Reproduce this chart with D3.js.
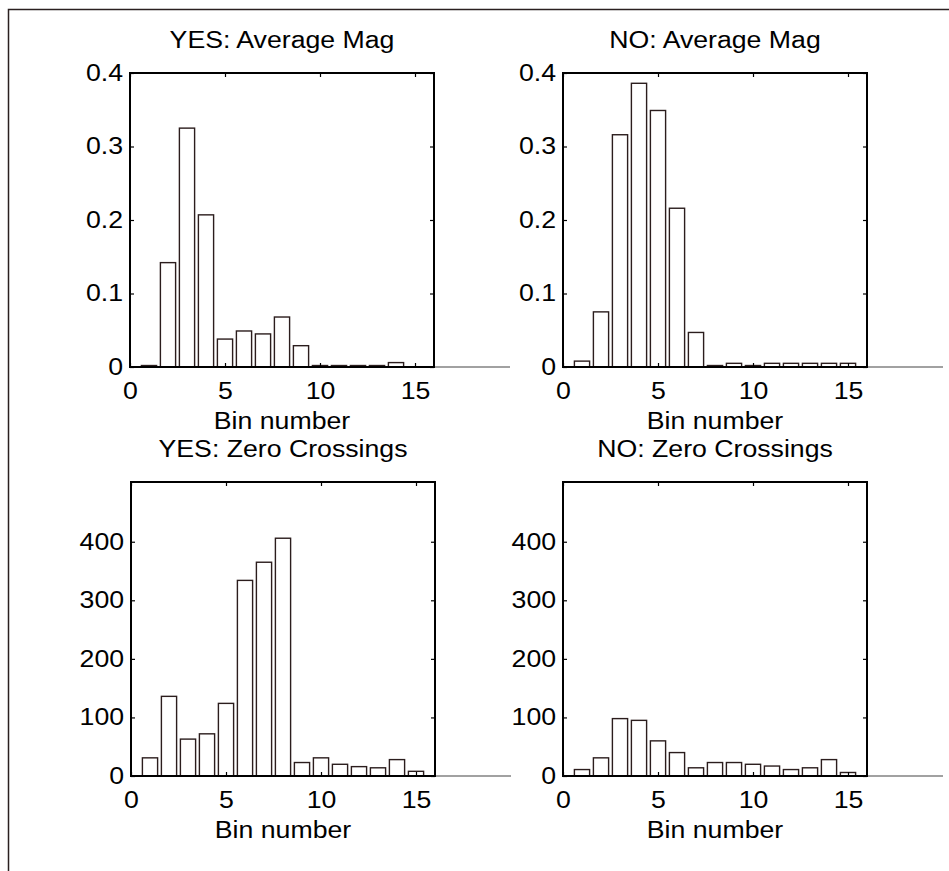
<!DOCTYPE html>
<html>
<head>
<meta charset="utf-8">
<title>Bin histograms</title>
<script src="https://cdn.jsdelivr.net/npm/d3@7/dist/d3.min.js"></script>
<style>
  body { margin: 0; background: #fff; }
  text { font-family: "Liberation Sans", Arial, sans-serif; fill: #000; }
</style>
</head>
<body>
<svg id="chart" width="949" height="871"></svg>
<script>
// bin numbers 1..15
const bins = d3.range(1, 16);

// values
const yesMag = [0.002, 0.142, 0.325, 0.207, 0.038, 0.049, 0.045, 0.068, 0.029, 0.002, 0.002, 0.002, 0.002, 0.006, 0];
const noMag  = [0.008, 0.075, 0.316, 0.386, 0.349, 0.216, 0.047, 0.002, 0.005, 0.002, 0.005, 0.005, 0.005, 0.005, 0.005];
const yesZc  = [31, 136, 63, 72, 124, 334, 365, 406, 23, 31, 20, 16, 14, 28, 8];
const noZc   = [11, 31, 98, 95, 60, 40, 14, 23, 23, 20, 17, 11, 14, 28, 6];

const titles = ["YES: Average Mag", "NO: Average Mag", "YES: Zero Crossings", "NO: Zero Crossings"];
const xTicks = [0, 5, 10, 15];
const magTicks = [0, 0.1, 0.2, 0.3, 0.4];
const zcTicks = [0, 100, 200, 300, 400];
const xLabel = "Bin number";

const svg = d3.select("#chart");

// outer figure frame (left + top edges only are visible)
svg.append("path")
  .attr("d", "M 8.5 871 V 9.5 H 949")
  .attr("fill", "none")
  .attr("stroke", "#2a2020")
  .attr("stroke-width", 1.5);

const panels = [
  {title: titles[0], vals: yesMag, yMax: 0.4, yTicks: magTicks, fmt: d => d === 0 ? "0" : d3.format(".1f")(d), left: 130, top: 73},
  {title: titles[1], vals: noMag,  yMax: 0.4, yTicks: magTicks, fmt: d => d === 0 ? "0" : d3.format(".1f")(d), left: 563, top: 73},
  {title: titles[2], vals: yesZc,  yMax: 502, yTicks: zcTicks,  fmt: d3.format("d"), left: 131, top: 482},
  {title: titles[3], vals: noZc,   yMax: 502, yTicks: zcTicks,  fmt: d3.format("d"), left: 563, top: 482}
];

const w = 304;
const h = 294;
const fs = 23;
const sx = 1.16; // the lettering in the picture is a bit wider than Arial

panels.forEach(p => {
  const g = svg.append("g").attr("transform", "translate(" + p.left + "," + p.top + ")");

  const x = d3.scaleLinear().domain([0, 16]).range([0, w]);
  const y = d3.scaleLinear().domain([0, p.yMax]).range([h, 0]);

  // baseline runs past the box like matlab's bar baseline
  g.append("line")
    .attr("x1", x(0)).attr("x2", x(20))
    .attr("y1", y(0)).attr("y2", y(0))
    .attr("stroke", "#444")
    .attr("stroke-width", 1.2);

  // bars
  g.selectAll("rect.bar")
    .data(bins)
    .join("rect")
    .attr("class", "bar")
    .attr("x", d => x(d - 0.4))
    .attr("width", x(0.8) - x(0))
    .attr("y", (d, i) => y(p.vals[i]))
    .attr("height", (d, i) => y(0) - y(p.vals[i]))
    .attr("fill", "#fff")
    .attr("stroke", "#2b1d1d")
    .attr("stroke-width", 1.4);

  // axes with inward ticks
  const ax = [
    d3.axisLeft(y).tickValues(p.yTicks).tickFormat(p.fmt).tickSize(-4).tickPadding(6),
    d3.axisRight(y).tickValues(p.yTicks).tickFormat("").tickSize(-4),
    d3.axisTop(x).tickValues(xTicks).tickFormat("").tickSize(-4),
    d3.axisBottom(x).tickValues(xTicks).tickSize(-4).tickPadding(16)
  ];
  const pos = ["translate(0,0)", "translate(" + w + ",0)", "translate(0,0)", "translate(0," + h + ")"];
  ax.forEach((a, k) => {
    const ga = g.append("g").attr("transform", pos[k]).call(a);
    ga.select(".domain").remove();
    ga.selectAll("line").attr("stroke", "#000").attr("stroke-width", 1.2);
    ga.selectAll("text")
      .style("font-size", fs + "px")
      .style("font-family", "'Liberation Sans', Arial, sans-serif")
      .attr("fill", "#000")
      .attr("transform", "scale(" + sx + ",1)");
  });

  // box
  g.append("rect")
    .attr("width", w).attr("height", h)
    .attr("fill", "none")
    .attr("stroke", "#000")
    .attr("stroke-width", 2);

  g.append("text")
    .attr("transform", "translate(" + (w / 2) + "," + (-25) + ") scale(" + sx + ",1)")
    .attr("text-anchor", "middle")
    .style("font-size", fs + "px")
    .text(p.title);

  g.append("text")
    .attr("transform", "translate(" + (w / 2) + "," + (h + 62) + ") scale(" + sx + ",1)")
    .attr("text-anchor", "middle")
    .style("font-size", fs + "px")
    .text(xLabel);
});
</script>
</body>
</html>
